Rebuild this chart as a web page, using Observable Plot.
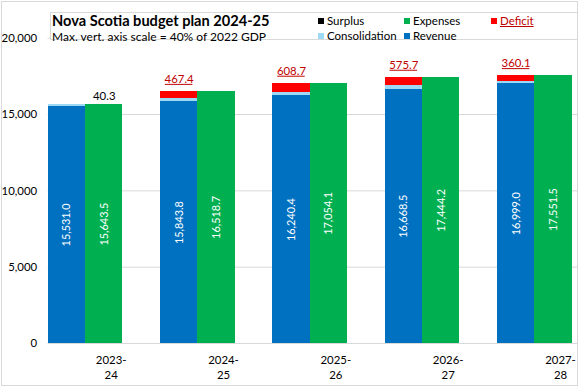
<!DOCTYPE html>
<html><head><meta charset="utf-8">
<script src="https://cdn.jsdelivr.net/npm/d3@7"></script>
<script src="https://cdn.jsdelivr.net/npm/@observablehq/plot@0.6"></script>
<style>
html,body{margin:0;padding:0;background:#fff;}
body{font-family:Lato,"Open Sans",sans-serif;width:582px;height:389px;position:relative;overflow:hidden;}
#frame{position:absolute;left:1px;top:1px;width:575px;height:383px;border:1px solid #d9d9d9;overflow:hidden;}
#chart{position:absolute;left:-2px;top:-2px;}
#titlebox{position:absolute;left:48px;top:10px;width:600px;height:26px;background:#fff;border:1px solid #d9d9d9;}
.t1{position:absolute;left:50px;top:10px;font-weight:bold;font-size:14.6px;color:#000;white-space:nowrap;}
.t2{position:absolute;left:50px;top:27px;font-size:12px;color:#000;white-space:nowrap;}
.lg{position:absolute;font-size:11.5px;color:#000;white-space:nowrap;line-height:14px;}
.lg i{display:inline-block;width:6px;height:6px;margin-right:3px;vertical-align:1px;}
</style>
</head><body>
<div id="frame">
  <div id="chart"></div>
  <div id="titlebox"></div>
  <div class="t1">Nova Scotia budget plan 2024-25</div>
  <div class="t2">Max. vert. axis scale = 40% of 2022 GDP</div>
  <div id="legend"></div>
</div>
<script>
const years = ["2023-24","2024-25","2025-26","2026-27","2027-28"];
const yearLabels = ["2023-\n24","2024-\n25","2025-\n26","2026-\n27","2027-\n28"];
const revenue = [15531.0,15843.8,16240.4,16668.5,16999.0];
const consolidation = [152.8,207.5,205.0,200.0,192.4];
const deficit = [0,467.4,608.7,575.7,360.1];
const expenses = [15643.5,16518.7,17054.1,17444.2,17551.5];
const surplus = [40.3,0,0,0,0];
const yTicks = [0,5000,10000,15000,20000];
const seriesNames = ["Revenue","Consolidation","Deficit","Expenses","Surplus"];
const seriesColors = ["#0070c0","#9dd9f5","#ff0000","#00b050","#000000"];

const slots = years.flatMap(y => [y+"|R", y+"|E", y+"|_"]);
const rows = [];
years.forEach((y,i) => {
  rows.push({key:y+"|R", series:"Revenue", value:revenue[i]});
  rows.push({key:y+"|R", series:"Consolidation", value:consolidation[i]});
  rows.push({key:y+"|R", series:"Deficit", value:deficit[i]});
  rows.push({key:y+"|E", series:"Expenses", value:expenses[i]});
  rows.push({key:y+"|E", series:"Surplus", value:surplus[i]});
});
const mainLabels = years.flatMap((y,i) => [
  {key:y+"|R", v:revenue[i]},
  {key:y+"|E", v:expenses[i]}
]);
const defLabels = years.map((y,i) => ({key:y+"|R", v:deficit[i], top:revenue[i]+consolidation[i]+deficit[i]})).filter(d => d.v > 0);
const surLabels = years.map((y,i) => ({key:y+"|E", v:surplus[i], top:expenses[i]+surplus[i]})).filter(d => d.v > 0);
const labelOf = Object.fromEntries(years.map((y,i) => [y+"|E", yearLabels[i]]));
const fmt1 = d3.format(",.1f");

const chart = Plot.plot({
  width: 582, height: 389,
  marginLeft: 48, marginRight: 0, marginTop: 38, marginBottom: 43,
  style: {fontFamily: "Lato, 'Open Sans', sans-serif", fontSize: "11.5px", color: "#000", background: "transparent"},
  x: {type: "band", domain: slots, range: [48, 614.5], paddingInner: 0, paddingOuter: 0, round: false, axis: null, label: null},
  y: {domain: [0, 20000], axis: null},
  color: {domain: seriesNames, range: seriesColors},
  marks: [
    Plot.gridY(yTicks, {stroke: "#d9d9d9", strokeOpacity: 1}),
    Plot.barY(rows, {x: "key", y: "value", fill: "series", inset: 0, shapeRendering: "crispEdges"}),
    Plot.axisY(yTicks, {tickSize: 0, tickPadding: 11, tickFormat: d3.format(","), fill: "#000", label: null}),
    Plot.axisX(years.map(y => y+"|E"), {tickSize: 0, tickPadding: 10, dx: 7, tickFormat: d => labelOf[d], lineHeight: 1.3, fill: "#000", label: null}),
    Plot.text(mainLabels, {x: "key", y: d => d.v / 2, text: d => fmt1(d.v), rotate: -90, fill: "white", fontSize: 11}),
    Plot.text(defLabels, {x: "key", y: "top", text: d => fmt1(d.v), dy: -12, fill: "#c00000", fontSize: 11.5}),
    Plot.tickY(defLabels, {x: "key", y: "top", dy: -7, stroke: "#c00000", insetLeft: 5, insetRight: 5}),
    Plot.text(surLabels, {x: "key", y: "top", text: d => fmt1(d.v), dy: -8, fill: "#000", fontSize: 11.5})
  ]
});
document.getElementById("chart").appendChild(chart);

const legendItems = [
  {name:"Surplus", x:318, y:21},
  {name:"Expenses", x:404, y:21},
  {name:"Deficit", x:491, y:21},
  {name:"Consolidation", x:318, y:36},
  {name:"Revenue", x:404, y:36}
];
const lg = document.getElementById("legend");
legendItems.forEach(it => {
  const d = document.createElement("div");
  d.className = "lg";
  d.style.left = (it.x - 2) + "px";
  d.style.top = (it.y - 2 - 7) + "px";
  const c = seriesColors[seriesNames.indexOf(it.name)];
  const txt = it.name === "Deficit" ? `<span style="color:#c00000;text-decoration:underline">${it.name}</span>` : it.name;
  d.innerHTML = `<i style="background:${c}"></i>${txt}`;
  lg.appendChild(d);
});
</script>
</body></html>
